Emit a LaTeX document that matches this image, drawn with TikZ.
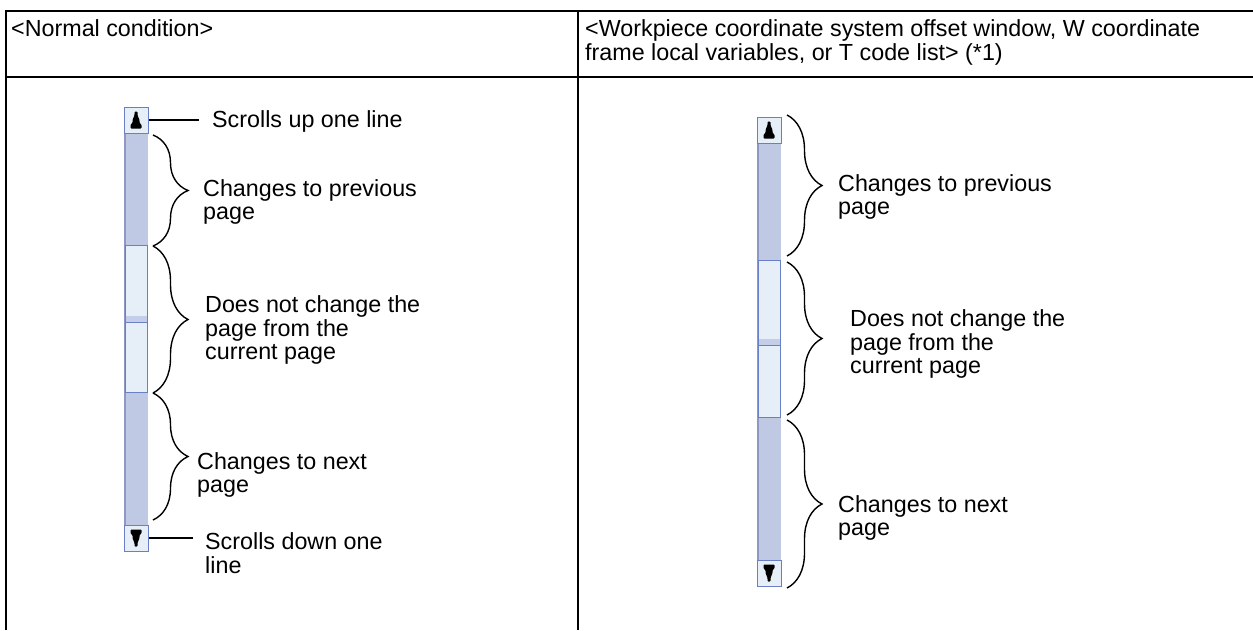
\documentclass[tikz,border=0pt]{standalone}
\usepackage{fontspec}
\setmainfont{Liberation Sans}
\usepackage{xcolor}
\usetikzlibrary{positioning,calc,decorations.pathreplacing}

\definecolor{trackblue}{HTML}{BFC9E4}
\definecolor{trackedge}{HTML}{8E98C2}
\definecolor{thumbfill}{HTML}{E6EEF7}
\definecolor{thumbline}{HTML}{6B7FC6}
\definecolor{gripband}{HTML}{C4CEE8}

\tikzset{
  grid/.style={line width=2pt},
  sbbtn/.style={draw=thumbline,fill=thumbfill,line width=1pt,minimum width=24pt,minimum height=26pt,inner sep=0pt},
  sbtrack/.style={fill=trackblue},
  sbthumb/.style={draw=thumbline,fill=thumbfill,line width=1pt},
  lbl/.style={anchor=west,align=left,inner sep=0pt,font=\fontsize{23.3}{23.5}\selectfont},
  hdr/.style={anchor=north west,align=left,inner sep=0pt,font=\fontsize{23.3}{24}\selectfont},
  cbrace/.style={decorate,decoration={brace,amplitude=35pt},line width=1.4pt},
  conn/.style={line width=1.2pt},
  upglyph/.pic={\fill[rounded corners=0.8pt] (-1.5,-8.5) -- (1.5,-8.5) -- (1.5,-5) -- (3.5,0) -- (3.5,3) -- (5.5,4.5) -- (5.5,8.5)
    -- (-5.5,8.5) -- (-5.5,4.5) -- (-3.5,3) -- (-3.5,0) -- (-1.5,-5) -- cycle;}
}

\begin{document}
\begin{tikzpicture}[x=1pt,y=-1pt]
\useasboundingbox (0,0) rectangle (1253,630);

% Table
\draw[grid] (5,11) -- (1253,11);
\draw[grid] (5,77) -- (1253,77);
\draw[grid] (6,10) -- (6,630);
\draw[grid] (578,10) -- (578,630);
\node[hdr] (hdrL) at (11,19) {<Normal condition>};
\node[hdr] (hdrR) at (585,19) {<Workpiece coordinate system offset window, W coordinate\\frame local variables, or T code list> (*1)};

% Left scrollbar
\fill[sbtrack] (124,107) rectangle (148,550);
\fill[trackedge] (124,107) rectangle (126,550);
\draw[sbthumb] (125,245) rectangle (147,392);
\fill[gripband] (125.5,316) rectangle (146.5,322);
\draw[thumbline,line width=1pt] (125,322) -- (147,322);
\node[sbbtn] (upL) at (136,120) {};
\node[sbbtn] (dnL) at (136,538) {};
\pic at (upL) {upglyph};
\pic[yscale=-1] at (dnL) {upglyph};

\node[lbl] (upTxtL) at (212,121) {Scrolls up one line};
\node[lbl] (prevTxtL) at (203,202) {Changes to previous\\page};
\node[lbl] (curTxtL) at (205,330) {Does not change the\\page from the\\current page};
\node[lbl] (nextTxtL) at (197,475) {Changes to next\\page};
\node[lbl] (dnTxtL) at (205,553) {Scrolls down one\\line};

\draw[conn] (upL.east) -- ([xshift=-13pt]upL.east -| upTxtL.west);
\draw[conn] (dnL.east) -- ([xshift=-12pt]dnL.east -| dnTxtL.west);

\coordinate (lb1) at (153,135);
\coordinate (lb2) at (153,246);
\coordinate (lb3) at (153,393);
\coordinate (lb4) at (153,520);
\draw[cbrace] (lb1) -- (lb2);
\draw[cbrace] (lb2) -- (lb3);
\draw[cbrace] (lb3) -- (lb4);

% Right scrollbar
\fill[sbtrack] (757,117) rectangle (781,587);
\fill[trackedge] (757,117) rectangle (759,587);
\draw[sbthumb] (758,260) rectangle (780,417);
\fill[gripband] (758.5,339) rectangle (779.5,345);
\draw[thumbline,line width=1pt] (758,345) -- (780,345);
\node[sbbtn] (upR) at (769,130) {};
\node[sbbtn] (dnR) at (769,573) {};
\pic at (upR) {upglyph};
\pic[yscale=-1] at (dnR) {upglyph};

\node[lbl] (prevTxtR) at (838,197) {Changes to previous\\page};
\node[lbl] (curTxtR) at (850,344) {Does not change the\\page from the\\current page};
\node[lbl] (nextTxtR) at (838,518) {Changes to next\\page};

\coordinate (rb1) at (787,115);
\coordinate (rb2) at (787,256);
\coordinate (rb3) at (787,262);
\coordinate (rb4) at (787,415);
\coordinate (rb5) at (787,420);
\coordinate (rb6) at (787,588);
\draw[cbrace] (rb1) -- (rb2);
\draw[cbrace] (rb3) -- (rb4);
\draw[cbrace] (rb5) -- (rb6);
\end{tikzpicture}
\end{document}
